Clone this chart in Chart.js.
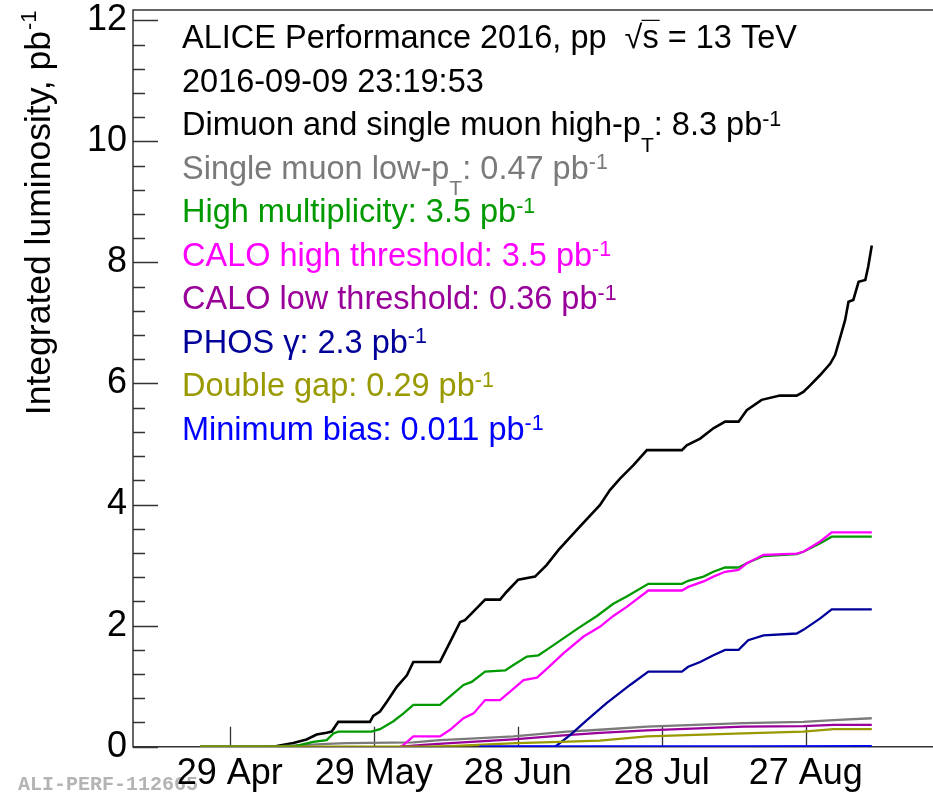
<!DOCTYPE html>
<html>
<head>
<meta charset="utf-8">
<script src="https://cdn.jsdelivr.net/npm/chart.js@4.4.1/dist/chart.umd.min.js"></script>
<style>
  html, body { margin: 0; padding: 0; background: #fff; }
  canvas { display: block; }
</style>
</head>
<body>
<canvas id="lumi" width="933" height="794"></canvas>
<script>
// ALICE pp 2016 at 13 TeV: integrated luminosity per trigger class.
// x = day of year 2016 (0 = 1 Jan), y = integrated luminosity in pb^-1.

const tickDays = [119, 149, 179, 209, 239];
const tickLabels = ['29 Apr', '29 May', '28 Jun', '28 Jul', '27 Aug'];
const yTicks = [0, 2, 4, 6, 8, 10, 12];

const seriesNames = [
  'Dimuon and single muon high-p_T',
  'Single muon low-p_T',
  'High multiplicity',
  'CALO high threshold',
  'CALO low threshold',
  'PHOS \u03B3',
  'Double gap',
  'Minimum bias'
];
const seriesColors = ['#000000', '#7a7a7a', '#009900', '#ff00ff', '#990099', '#000099', '#999900', '#0000ff'];

const dimuonHighPt = [
  [112.8, 0], [126.5, 0], [128.8, 0.01], [132.25, 0.06], [135.0, 0.12], [137.1, 0.2], [139.2, 0.23],
  [140.25, 0.25], [141.6, 0.41], [148.2, 0.41], [148.9, 0.51], [150.3, 0.58], [151.7, 0.74],
  [153.8, 0.99], [155.9, 1.18], [157.25, 1.40], [162.8, 1.40], [164.2, 1.62], [165.6, 1.84],
  [167.0, 2.06], [168.0, 2.09], [169.75, 2.23], [172.2, 2.43], [175.3, 2.43], [176.7, 2.56],
  [179.1, 2.76], [182.6, 2.81], [185.0, 3.0], [187.5, 3.25], [191.5, 3.6], [196.1, 3.99],
  [198.2, 4.24], [200.3, 4.43], [203.1, 4.65], [205.9, 4.90], [213.2, 4.90], [214.2, 4.98],
  [217.0, 5.09], [219.75, 5.26], [222.2, 5.37], [225.0, 5.37], [226.7, 5.56], [229.8, 5.73],
  [233.6, 5.80], [237.1, 5.80], [238.5, 5.86], [239.9, 5.97], [242.0, 6.14], [244.1, 6.33],
  [245.1, 6.47], [246.2, 6.77], [247.2, 7.05], [247.9, 7.35], [248.9, 7.38], [250.0, 7.68],
  [251.4, 7.71], [252.0, 7.93], [252.75, 8.28]
];
const muonLowPt = [
  [112.8, 0], [129.5, 0.01], [140.5, 0.05], [143.4, 0.06], [157.25, 0.07], [162.8, 0.11],
  [171.2, 0.14], [178.1, 0.17], [189.2, 0.25], [196.1, 0.28], [205.9, 0.33], [226.0, 0.39],
  [238.5, 0.41], [244.75, 0.44], [252.75, 0.47]
];
const highMult = [
  [112.8, 0], [129.0, 0], [132.6, 0.01], [136.4, 0.08], [139.2, 0.11], [140.6, 0.22], [141.6, 0.25],
  [148.5, 0.25], [150.3, 0.29], [153.1, 0.42], [155.2, 0.55], [157.25, 0.69], [162.8, 0.69],
  [164.9, 0.83], [167.7, 1.02], [169.4, 1.07], [172.2, 1.24], [176.4, 1.26], [178.1, 1.35],
  [180.9, 1.49], [183.3, 1.51], [185.0, 1.60], [188.5, 1.79], [192.0, 1.98], [195.5, 2.16],
  [198.9, 2.36], [201.7, 2.48], [206.2, 2.69], [213.2, 2.69], [214.5, 2.74], [217.7, 2.81],
  [219.75, 2.89], [222.2, 2.96], [225.0, 2.96], [226.7, 3.03], [230.2, 3.15], [237.1, 3.18],
  [238.5, 3.22], [242.0, 3.36], [244.4, 3.47], [252.75, 3.47]
];
const caloHigh = [
  [154.6, 0], [155.2, 0.03], [157.25, 0.17], [162.8, 0.17], [164.9, 0.28], [167.7, 0.47],
  [169.8, 0.55], [172.2, 0.77], [175.3, 0.77], [177.4, 0.91], [180.2, 1.10], [183.0, 1.14],
  [185.1, 1.29], [188.5, 1.54], [192.7, 1.82], [196.1, 1.98], [198.9, 2.16], [201.7, 2.31],
  [206.2, 2.58], [213.2, 2.58], [214.5, 2.64], [217.7, 2.73], [219.75, 2.81], [222.2, 2.89],
  [225.0, 2.92], [226.7, 3.03], [230.2, 3.17], [237.1, 3.19], [238.5, 3.22], [242.0, 3.39],
  [244.4, 3.54], [252.75, 3.54]
];
const caloLow = [
  [154.6, 0], [159.3, 0.03], [164.9, 0.06], [178.1, 0.12], [189.2, 0.19], [196.1, 0.23],
  [205.9, 0.27], [226.0, 0.33], [238.5, 0.34], [244.75, 0.36], [252.75, 0.36]
];
const phosGamma = [
  [171.0, 0], [186.8, 0], [189.9, 0.19], [193.4, 0.44], [197.5, 0.72], [202.4, 1.02],
  [206.2, 1.24], [213.2, 1.24], [214.5, 1.32], [217.0, 1.40], [219.75, 1.51], [222.2, 1.60],
  [225.0, 1.60], [227.0, 1.76], [230.2, 1.84], [237.1, 1.87], [238.5, 1.93], [242.0, 2.12],
  [244.4, 2.27], [252.75, 2.27]
];
const doubleGap = [
  [112.8, 0], [160.0, 0], [164.9, 0.01], [178.8, 0.06], [187.8, 0.08], [196.1, 0.10],
  [205.9, 0.17], [226.0, 0.22], [238.5, 0.25], [244.75, 0.29], [252.75, 0.29]
];
const minBias = [
  [171.0, 0], [196.1, 0.003], [226.0, 0.007], [252.75, 0.011]
];

const seriesData = [dimuonHighPt, muonLowPt, highMult, caloHigh, caloLow, phosGamma, doubleGap, minBias];

const FONT = '"Liberation Sans", Arial, Helvetica, sans-serif';
Chart.defaults.font.family = FONT;

// Label value: the final integrated luminosity, two significant digits
function finalValueText(series) {
  return String(Number(series[series.length - 1][1].toPrecision(2)));
}

// Turn a name with "_T" into normal + subscript runs
function nameRuns(name) {
  const i = name.indexOf('_T');
  if (i < 0) return [{ t: name }];
  return [{ t: name.slice(0, i) }, { t: 'T', sub: true }, { t: name.slice(i + 2) }];
}

function drawRuns(ctx, x, y, runs, size, color) {
  ctx.fillStyle = color;
  ctx.strokeStyle = color;
  ctx.textAlign = 'left';
  ctx.textBaseline = 'alphabetic';
  for (const r of runs) {
    let fs = size, dy = 0;
    if (r.sub) { fs = size * 0.65; dy = size * 0.5; }
    if (r.sup) { fs = size * 0.66; dy = -size * 0.29; }
    ctx.font = fs + 'px ' + FONT;
    ctx.fillText(r.t, x, y + dy);
    const w = ctx.measureText(r.t).width;
    if (r.root) {
      // overline across the radicand (the part after the radical sign)
      const wr = ctx.measureText('\u221A').width;
      ctx.lineWidth = 1.2;
      ctx.beginPath();
      ctx.moveTo(x + wr - 1, y - size * 0.86);
      ctx.lineTo(x + w + 1, y - size * 0.86);
      ctx.stroke();
    }
    x += w;
  }
}

const annotations = {
  id: 'annotations',
  beforeDraw(chart) {
    const ctx = chart.ctx;
    ctx.save();
    ctx.fillStyle = '#b4b4b4';
    ctx.font = 'bold 20px "Liberation Mono", "DejaVu Sans Mono", monospace';
    ctx.textBaseline = 'alphabetic';
    ctx.fillText('ALI-PERF-112665', 18, 790);
    ctx.restore();
  },
  beforeDatasetsDraw(chart) {
    const { ctx, chartArea: a, scales: { x, y } } = chart;
    ctx.save();
    ctx.strokeStyle = '#333333';
    ctx.lineWidth = 1.5;
    ctx.beginPath();
    ctx.moveTo(a.right, a.top);
    ctx.lineTo(a.left, a.top);
    ctx.lineTo(a.left, a.bottom);
    ctx.lineTo(a.right, a.bottom);
    ctx.stroke();

    ctx.lineWidth = 1.3;
    ctx.beginPath();
    // y-axis ticks, pointing into the plot, 5 subdivisions per major step
    for (let k = 0; k <= 30; k++) {
      const v = k * 0.4;
      const py = Math.round(y.getPixelForValue(v)) + 0.5;
      const len = (k % 5 === 0) ? 25 : 12;
      ctx.moveTo(a.left, py);
      ctx.lineTo(a.left + len, py);
    }
    // x-axis ticks
    for (const d of tickDays) {
      const px = Math.round(x.getPixelForValue(d)) + 0.5;
      ctx.moveTo(px, a.bottom);
      ctx.lineTo(px, a.bottom - 20);
    }
    ctx.stroke();
    ctx.restore();
  },
  afterDraw(chart) {
    const ctx = chart.ctx;
    ctx.save();
    const left = 182, first = 48.3, step = 43.5, size = 32.5;
    drawRuns(ctx, left, first, [
      { t: 'ALICE Performance 2016, pp  ' },
      { t: '\u221As', root: true },
      { t: ' = 13 TeV' }
    ], size, '#000');
    drawRuns(ctx, left, first + step, [{ t: '2016-09-09 23:19:53' }], size, '#000');
    seriesNames.forEach((name, i) => {
      const runs = nameRuns(name).concat([
        { t: ': ' + finalValueText(seriesData[i]) + ' pb' },
        { t: '-1', sup: true }
      ]);
      drawRuns(ctx, left, first + step * (i + 2), runs, size, seriesColors[i]);
    });

    // y-axis title, rotated, aligned to the top of the axis
    ctx.translate(50, 31);
    ctx.rotate(-Math.PI / 2);
    ctx.fillStyle = '#000';
    ctx.textBaseline = 'alphabetic';
    ctx.textAlign = 'right';
    ctx.font = '35.5px ' + FONT;
    ctx.fillText('Integrated luminosity, pb', 0, 0);
    ctx.textAlign = 'left';
    ctx.font = '22px ' + FONT;
    ctx.fillText('-1', 1, -14);
    ctx.restore();
  }
};

new Chart(document.getElementById('lumi'), {
  type: 'line',
  data: {
    datasets: seriesData.map((s, i) => ({
      label: seriesNames[i],
      data: s.map(p => ({ x: p[0], y: p[1] })),
      borderColor: seriesColors[i],
      backgroundColor: seriesColors[i],
      borderWidth: i === 0 ? 2.6 : 2.3,
      pointRadius: 0,
      tension: 0,
      fill: false,
      order: 20 - i
    }))
  },
  options: {
    responsive: false,
    animation: false,
    events: [],
    layout: { padding: { top: 10, right: 0, left: 0, bottom: 0 } },
    plugins: { legend: { display: false }, tooltip: { enabled: false } },
    scales: {
      x: {
        type: 'linear',
        min: 98.85,
        max: 265.5,
        grid: { display: false, drawTicks: false },
        border: { display: false },
        afterBuildTicks(scale) { scale.ticks = tickDays.map(v => ({ value: v })); },
        afterFit(scale) { scale.height = 47.3; scale.paddingLeft = 0; scale.paddingRight = 0; },
        ticks: {
          autoSkip: false,
          maxRotation: 0,
          padding: 6,
          color: '#000',
          font: { size: 36 },
          callback: (v) => tickLabels[tickDays.indexOf(v)]
        }
      },
      y: {
        min: 0,
        max: 12.17,
        grid: { display: false, drawTicks: false },
        border: { display: false },
        afterBuildTicks(scale) { scale.ticks = yTicks.map(v => ({ value: v })); },
        afterFit(scale) { scale.width = 133; scale.paddingTop = 0; scale.paddingBottom = 0; },
        ticks: {
          padding: 6,
          color: '#000',
          font: { size: 36 },
          callback: (v) => String(v)
        }
      }
    }
  },
  plugins: [annotations]
});
</script>
</body>
</html>
